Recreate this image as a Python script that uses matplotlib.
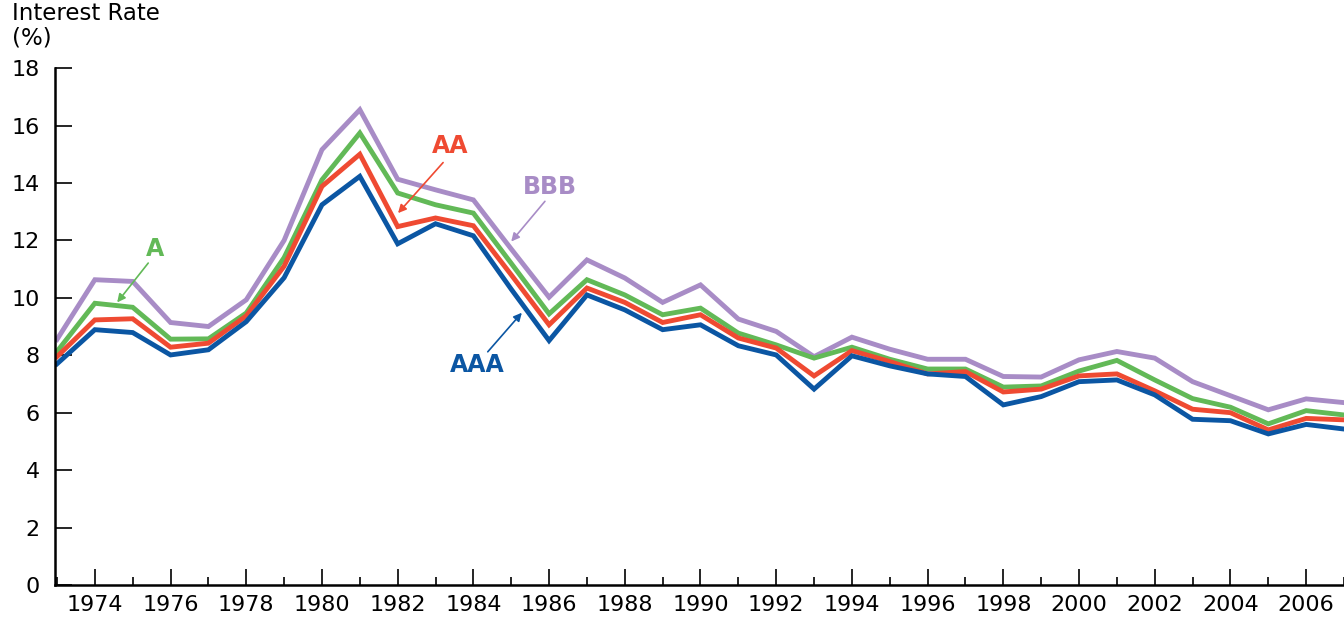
import numpy as np
import matplotlib.pyplot as plt
from matplotlib.ticker import MultipleLocator

years = list(range(1973, 2008))

# yields, one value per year (1973-2007)
aaa = [7.70, 8.89, 8.79, 8.01, 8.19, 9.17, 10.70, 13.24, 14.23, 11.88,
       12.58, 12.16, 10.30, 8.51, 10.10, 9.58, 8.89, 9.06, 8.33, 8.01,
       6.82, 7.98, 7.63, 7.35, 7.26, 6.27, 6.56, 7.08, 7.14, 6.62,
       5.77, 5.72, 5.26, 5.59, 5.43]
aa = [7.95, 9.23, 9.27, 8.28, 8.42, 9.37, 11.10, 13.88, 15.00, 12.48,
      12.78, 12.51, 10.80, 9.06, 10.34, 9.84, 9.14, 9.41, 8.60, 8.25,
      7.28, 8.16, 7.78, 7.35, 7.43, 6.72, 6.82, 7.28, 7.35, 6.76,
      6.12, 6.00, 5.40, 5.80, 5.75]
a = [8.13, 9.81, 9.67, 8.56, 8.57, 9.47, 11.40, 14.11, 15.74, 13.65,
     13.24, 12.95, 11.20, 9.44, 10.63, 10.10, 9.41, 9.64, 8.77, 8.36,
     7.90, 8.28, 7.86, 7.52, 7.52, 6.89, 6.93, 7.45, 7.82, 7.14,
     6.49, 6.19, 5.61, 6.07, 5.92]
bbb = [8.55, 10.63, 10.57, 9.14, 9.00, 9.93, 12.00, 15.16, 16.55, 14.13,
       13.76, 13.41, 11.70, 10.02, 11.32, 10.69, 9.84, 10.45, 9.26, 8.83,
       7.95, 8.63, 8.21, 7.86, 7.86, 7.26, 7.24, 7.84, 8.13, 7.90,
       7.08, 6.59, 6.10, 6.48, 6.35]

blue = "#0b56a3"
red = "#ef4a32"
green = "#62b957"
purple = "#a88cc6"

plt.rcParams['font.family'] = ['DejaVu Sans']

fig = plt.figure(figsize=(13.44, 6.19), dpi=100)
ax = fig.add_axes([0.041, 0.055, 0.959, 0.835])

lw = 3.5
ax.plot(years, bbb, color=purple, lw=lw, solid_joinstyle='miter')
ax.plot(years, a, color=green, lw=lw, solid_joinstyle='miter')
ax.plot(years, aa, color=red, lw=lw, solid_joinstyle='miter')
ax.plot(years, aaa, color=blue, lw=lw, solid_joinstyle='miter')

ax.set_xlim(1972.95, 2007.0)
ax.set_ylim(0, 18)

ax.spines['top'].set_visible(False)
ax.spines['right'].set_visible(False)
ax.spines['left'].set_linewidth(1.8)
ax.spines['bottom'].set_linewidth(1.8)

ax.set_xticks(range(1974, 2007, 2))
ax.xaxis.set_minor_locator(MultipleLocator(1))
ax.set_yticks(range(0, 19, 2))
ax.tick_params(axis='x', which='major', direction='in', length=11.5, width=1.2,
               labelsize=16, pad=7)
ax.tick_params(axis='x', which='minor', direction='in', length=6, width=1.2)
ax.tick_params(axis='y', direction='in', length=12, width=1.2,
               labelsize=16, pad=11)

fig.text(0.009, 0.997, "Interest Rate\n(%)", ha='left', va='top',
         fontsize=16.5, linespacing=1.1)

# series labels with pointer arrows
labels = [
    ("A", green, (1975.59, 11.71), (1975.41, 11.21), (1974.59, 9.84)),
    ("AA", red, (1983.38, 15.30), (1983.20, 14.71), (1982.01, 12.95)),
    ("BBB", purple, (1986.02, 13.87), (1985.89, 13.36), (1985.00, 11.96)),
    ("AAA", blue, (1984.09, 7.67), (1984.38, 8.12), (1985.28, 9.48)),
]
for text, col, txt_pos, tail, head in labels:
    ax.text(txt_pos[0], txt_pos[1], text, color=col, fontsize=17,
            fontweight='bold', ha='center', va='center')
    ax.annotate("", xy=head, xytext=tail,
                arrowprops=dict(arrowstyle='-|>', color=col, lw=1.2,
                                mutation_scale=12, shrinkA=0, shrinkB=0))

fig.savefig("out.png", dpi=100)
